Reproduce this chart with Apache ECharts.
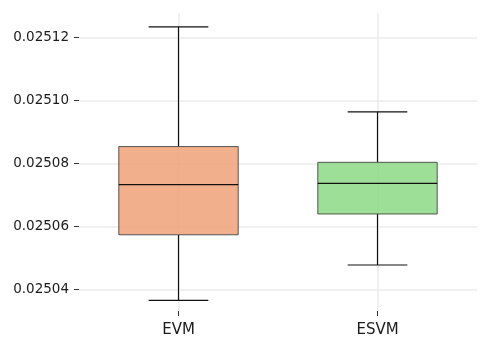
<!DOCTYPE html>
<html><head><meta charset="utf-8">
<script src="https://cdn.jsdelivr.net/npm/echarts@6/dist/echarts.min.js"></script>
<style>html,body{margin:0;padding:0;background:#fff}#c{width:490px;height:348px}</style>
</head><body><div id="c"></div>
<script>
const categories = ['EVM', 'ESVM'];
const mins    = [0.0250365, 0.0250477];
const q1s     = [0.0250573, 0.0250639];
const medians = [0.0250732, 0.0250736];
const q3s     = [0.0250853, 0.0250803];
const maxs    = [0.0251233, 0.0250963];
const fills   = ['rgba(240,161,119,0.85)', 'rgba(141,217,134,0.85)'];
const yMin = 0.0250331, yMax = 0.0251277;

const data = categories.map((c, i) => [i, mins[i], q1s[i], medians[i], q3s[i], maxs[i]]);

const chart = echarts.init(document.getElementById('c'), null, {renderer: 'canvas'});
chart.setOption({
  animation: false,
  backgroundColor: '#fff',
  grid: {left: 79, right: 13, top: 13, bottom: 37},
  xAxis: {
    type: 'category', data: categories,
    axisLine: {show: false},
    axisTick: {show: true, alignWithLabel: true, length: 5, lineStyle: {color: '#333', width: 1}},
    axisLabel: {fontFamily: 'DejaVu Sans', fontSize: 15, color: '#1a1a1a', margin: 12},
    splitLine: {show: true, alignWithLabel: true, lineStyle: {color: '#ebebeb', width: 1.5}}
  },
  yAxis: {
    type: 'value', min: yMin, max: yMax, splitNumber: 5,
    axisLine: {show: false},
    axisTick: {show: true, length: 5, lineStyle: {color: '#333', width: 1}},
    axisLabel: {fontFamily: 'DejaVu Sans', fontSize: 13.5, color: '#1a1a1a', margin: 10,
      showMinLabel: false, showMaxLabel: false,
      formatter: v => v.toFixed(5)},
    splitLine: {show: true, showMinLine: false, showMaxLine: false, lineStyle: {color: '#ebebeb', width: 1.5}}
  },
  series: [{
    type: 'custom',
    data: data,
    encode: {x: 0, y: [1, 2, 3, 4, 5]},
    renderItem: function (params, api) {
      const x = api.value(0);
      const band = api.size([1, 0])[0];
      const bw = band * 0.6, cw = bw / 2;
      const pMin = api.coord([x, api.value(1)]);
      const pQ1 = api.coord([x, api.value(2)]);
      const pMed = api.coord([x, api.value(3)]);
      const pQ3 = api.coord([x, api.value(4)]);
      const pMax = api.coord([x, api.value(5)]);
      const cx = pMin[0];
      const ls = {stroke: '#111', lineWidth: 1.2};
      return {type: 'group', children: [
        {type: 'line', shape: {x1: cx, y1: pQ3[1], x2: cx, y2: pMax[1]}, style: ls},
        {type: 'line', shape: {x1: cx, y1: pQ1[1], x2: cx, y2: pMin[1]}, style: ls},
        {type: 'line', shape: {x1: cx - cw/2, y1: pMax[1], x2: cx + cw/2, y2: pMax[1]}, style: ls},
        {type: 'line', shape: {x1: cx - cw/2, y1: pMin[1], x2: cx + cw/2, y2: pMin[1]}, style: ls},
        {type: 'rect', shape: {x: cx - bw/2, y: pQ3[1], width: bw, height: pQ1[1] - pQ3[1]},
          style: {fill: fills[params.dataIndex], stroke: 'rgba(60,60,60,0.85)', lineWidth: 1}},
        {type: 'line', shape: {x1: cx - bw/2, y1: pMed[1], x2: cx + bw/2, y2: pMed[1]}, style: ls}
      ]};
    }
  }]
});
</script></body></html>
